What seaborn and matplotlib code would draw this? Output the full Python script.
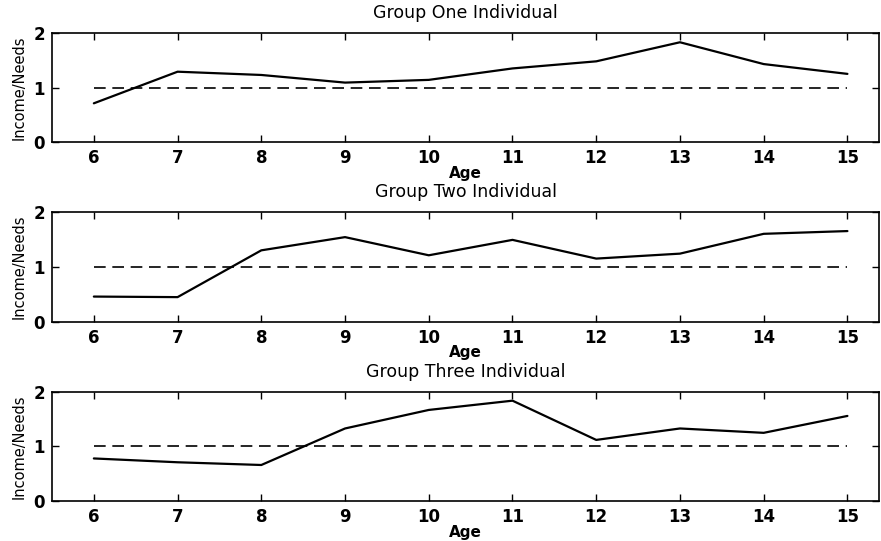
import matplotlib
matplotlib.use("Agg")
import matplotlib.pyplot as plt
import seaborn as sns
import pandas as pd

ages = [6, 7, 8, 9, 10, 11, 12, 13, 14, 15]
group_one = [0.71, 1.29, 1.23, 1.09, 1.14, 1.35, 1.48, 1.83, 1.43, 1.25]
group_two = [0.46, 0.45, 1.30, 1.54, 1.21, 1.49, 1.15, 1.24, 1.60, 1.65]
group_three = [0.78, 0.71, 0.66, 1.33, 1.67, 1.84, 1.12, 1.33, 1.25, 1.56]
needs = [1.0] * len(ages)
titles = ["Group One Individual", "Group Two Individual", "Group Three Individual"]
y_ticks = [0, 1, 2]

sns.set_style("ticks")
plt.rcParams['font.family'] = ['DejaVu Sans']
plt.rcParams['text.color'] = 'black'
plt.rcParams['axes.labelcolor'] = 'black'
plt.rcParams['xtick.color'] = 'black'
plt.rcParams['ytick.color'] = 'black'

fig = plt.figure(figsize=(8.81, 5.41), dpi=100)
positions = [
    [0.059, 0.7375, 0.939, 0.2015],
    [0.059, 0.405, 0.939, 0.2035],
    [0.059, 0.074, 0.939, 0.2015],
]
series = [group_one, group_two, group_three]
for pos, vals, title in zip(positions, series, titles):
    ax = fig.add_axes(pos)
    df = pd.DataFrame({"Age": ages, "Ratio": vals, "Needs": needs})
    sns.lineplot(data=df, x="Age", y="Needs", ax=ax, color="black",
                 linestyle=(0, (7, 4)), linewidth=1.2)
    sns.lineplot(data=df, x="Age", y="Ratio", ax=ax, color="black",
                 linewidth=1.6)
    ax.set_xlim(5.5, 15.38)
    ax.set_ylim(0, 2)
    ax.set_xticks(ages)
    ax.set_yticks(y_ticks)
    ax.tick_params(direction="in", top=True, right=True, length=5,
                   width=1, labelsize=12, pad=5, colors="black")
    for lab in ax.get_xticklabels() + ax.get_yticklabels():
        lab.set_fontweight("bold")
    for sp in ax.spines.values():
        sp.set_linewidth(1.2)
        sp.set_color("black")
    ax.set_xlabel("Age", fontsize=11, fontweight="bold", labelpad=-1,
                  color="black")
    ax.set_ylabel("Income/Needs", fontsize=10.5, labelpad=5, color="black")
    ax.set_title(title, fontsize=12.5, pad=11, color="black")

fig.savefig("out.png", dpi=100)
